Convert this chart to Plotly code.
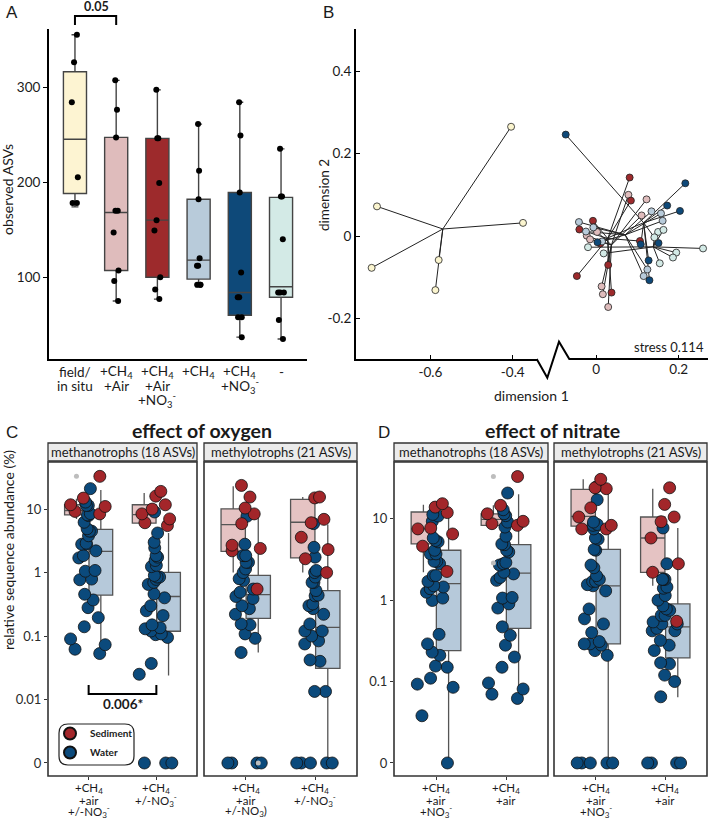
import plotly.graph_objects as go

W, H = 709, 821
FONT = "Lato"
INK = "#1a1a1a"

# ---------------- panel A: observed ASVs per treatment ----------------
a_labels = [["field/", "in situ"],
            ["+CH<sub>4</sub>", "+Air"],
            ["+CH<sub>4</sub>", "+Air", "+NO<sub>3</sub><sup>-</sup>"],
            ["+CH<sub>4</sub>"],
            ["+CH<sub>4</sub>", "+NO<sub>3</sub><sup>-</sup>"],
            ["-"]]
a_field = [355, 326, 284, 205, 178, 178]
a_ch4_air = [307, 276, 247, 170, 170, 147, 107, 96, 75]
a_ch4_air_no3 = [297, 246, 246, 199, 160, 149, 100, 87, 77]
a_ch4 = [261, 212, 182, 120, 112, 112, 92, 92, 92]
a_ch4_no3 = [284, 249, 189, 105, 79, 79, 58, 58, 37]
a_none = [235, 185, 185, 140, 84, 84, 84, 55, 35]
a_low = [174, 75, 77, 90, 37, 35]
a_q1 = [188, 107, 100, 98, 60, 79]
a_med = [245, 168, 160, 118, 84, 90]
a_q3 = [316, 247, 246, 182, 189, 184]
a_up = [355, 307, 297, 261, 284, 235]
a_colors = ["#fdf4d2", "#dfbcbc", "#9d2a2c", "#b8cbda", "#0e4979", "#d3eae6"]

# ---------------- panel B: NMDS ordination ----------------
b_field_d1 = [-0.404, -0.730, -0.375, -0.743, -0.580, -0.588]
b_field_d2 = [0.265, 0.072, 0.032, -0.077, -0.058, -0.131]
b_ch4_air_d1 = [0.078, 0.122, 0.110, -0.023, -0.015, 0.013, 0.016, 0.029, 0.002]
b_ch4_air_d2 = [0.100, 0.089, 0.050, 0.001, -0.008, -0.122, -0.141, -0.172, 0.010]
b_ch4_air_no3_d1 = [0.081, 0.084, -0.008, -0.041, 0.106, 0.029, -0.047, 0.037, 0.010]
b_ch4_air_no3_d2 = [0.142, 0.086, 0.037, 0.016, -0.012, -0.070, -0.097, -0.137, -0.018]
b_ch4_d1 = [-0.042, -0.007, 0.134, 0.157, 0.161, 0.124, 0.115, 0.014, -0.025]
b_ch4_d2 = [0.034, 0.021, 0.060, 0.055, 0.037, -0.081, -0.097, -0.013, 0.011]
b_ch4_no3_d1 = [-0.074, 0.216, 0.172, 0.203, 0.151, 0.127, 0.129, 0.003, 0.108]
b_ch4_no3_d2 = [0.246, 0.128, 0.074, 0.061, -0.017, -0.059, -0.107, -0.015, -0.020]
b_none_d1 = [-0.020, 0.018, 0.150, 0.163, 0.194, 0.186, 0.259, 0.154, 0.141]
b_none_d2 = [-0.027, -0.042, 0.010, 0.015, -0.040, -0.052, -0.030, -0.066, -0.003]

# ---------------- panel C: effect of oxygen (rel. abundance %) ----------------
c_labels_mt = [["+CH<sub>4</sub>", "+air", "+/-NO<sub>3</sub><sup>-</sup>"],
               ["+CH<sub>4</sub>", "+/-NO<sub>3</sub><sup>-</sup>"]]
c_labels_my = [["+CH<sub>4</sub>", "+air", "+/-NO<sub>3</sub>)"],
               ["+CH<sub>4</sub>", "+/-NO<sub>3</sub><sup>-</sup>"]]
c_mt_air_sed = [32.8, 14.9, 11.7, 11.0, 9.2, 8.4]
c_mt_air_wat = [21, 12.9, 11.4, 11.4, 7.9, 8.1, 8.5, 6.2, 4.5, 4.5, 4.9, 3.8, 2.9, 2.8, 2.2, 2.8,
                1.85, 1.7, 1.08, 1.05, 0.79, 0.77, 0.455, 0.37, 0.28, 0.195, 0.14, 0.09, 0.073,
                0.062, 0.053]
c_mt_noair_sed = [19, 16, 11.7, 10, 8.4, 7.0, 6.1, 5.5]
c_mt_noair_wat = [9.0, 4.2, 3.0, 2.45, 1.75, 1.85, 1.55, 1.24, 1.3, 0.9, 0.78, 0.85, 0.85, 0.65,
                  0.7, 0.46, 0.4, 0.3, 0.25, 0.21, 0.15, 0.13, 0.108, 0.105, 0.135, 0.12, 0.095,
                  0.037, 0.025, 0, 0, 0]
c_my_air_sed = [23.6, 15.5, 10.4, 8.4, 5.9, 2.7, 2.4, 2.2, 0.55]
c_my_air_wat = [7.7, 2.8, 1.85, 1.85, 1.85, 1.14, 1.0, 1.45, 1.45, 0.75, 0.8, 0.49, 0.39, 0.55,
                0.42, 0.3, 0.27, 0.22, 0.155, 0.15, 0.108, 0.092, 0.055, 0, 0, 0, 0]
c_my_noair_sed = [15.5, 15, 6.9, 6.1, 3.6, 2.3, 1.65, 1.0]
c_my_noair_wat = [5.9, 2.5, 1.75, 1.08, 0.7, 1.0, 0.85, 0.7, 0.52, 0.44, 0.32, 0.27, 0.43, 0.3,
                  0.22, 0.155, 0.12, 0.1, 0.12, 0.084, 0.075, 0.042, 0.04, 0.0134, 0.0134,
                  0, 0, 0, 0, 0]
# box stats, order: methanotrophs cat0, cat1, methylotrophs cat0, cat1
c_sed_low = [7.0, 5.5, 1.0, 1.0]
c_sed_q1 = [8.1, 6.0, 2.15, 1.7]
c_sed_med = [9.5, 8.2, 5.7, 6.2]
c_sed_q3 = [11.7, 11.7, 10.1, 14.2]
c_sed_up = [14.5, 18, 23, 15.5]
c_wat_low = [0.053, 0.024, 0.055, 0]
c_wat_q1 = [0.44, 0.119, 0.19, 0.031]
c_wat_med = [2.15, 0.42, 0.45, 0.137]
c_wat_q3 = [4.8, 1.01, 0.9, 0.52]
c_wat_up = [20, 4.2, 7.7, 5.7]
c_sed_out = [[33], [], [], []]
c_wat_out = [[], [], [0], []]

# ---------------- panel D: effect of nitrate ----------------
d_labels = [["+CH<sub>4</sub>", "+air", "+NO<sub>3</sub><sup>-</sup>"],
            ["+CH<sub>4</sub>", "+air"]]
d_mt_no3_sed = [15.3, 13.9, 11.9, 7.7, 7.5, 6.5, 4.6, 2.25]
d_mt_no3_wat = [11.3, 10.8, 9.3, 5.8, 5.2, 5.4, 4.1, 3.7, 3.7, 3.0, 3.0, 2.8, 2.0, 2.0, 1.7,
                1.38, 1.45, 1.5, 1.06, 1.25, 0.99, 0.38, 0.29, 0.21, 0.23, 0.155, 0.15, 0.11,
                0.093, 0.085, 0.038, 0]
d_mt_air_sed = [33, 14.6, 11.5, 9.3, 8.3, 8.7]
d_mt_air_wat = [20.7, 12.9, 11.5, 10.9, 9.1, 7.9, 6.1, 4.9, 4.8, 3.9, 4.1, 2.8, 2.9, 2.7, 2.2,
                2.1, 1.9, 1.75, 1.08, 1.06, 0.9, 0.8, 0.47, 0.37, 0.28, 0.2, 0.15, 0.096, 0.081,
                0.07, 0.062]
d_my_no3_sed = [30.5, 23.4, 24, 13.6, 10.5, 8.3, 7.5, 7.5]
d_my_no3_wat = [24.5, 17.1, 9.1, 7.5, 8.3, 8.5, 5.8, 5.6, 4.2, 4.1, 2.7, 2.5, 2.0, 1.8, 1.7, 1.3,
                1.5, 1.7, 1.55, 0.78, 0.59, 0.51, 0.4, 0.29, 0.31, 0.28, 0.29, 0.24, 0.21,
                0, 0, 0, 0, 0]
d_my_air_sed = [24, 15, 10.5, 9.2, 5.8, 2.8, 2.2, 0.55]
d_my_air_wat = [7.7, 2.8, 1.8, 1.8, 1.45, 1.8, 1.4, 1.14, 0.85, 1.0, 0.75, 0.78, 0.65, 0.65,
                0.54, 0.45, 0.42, 0.51, 0.51, 0.42, 0.32, 0.28, 0.24, 0.165, 0.17, 0.12, 0.1,
                0.065, 0, 0, 0, 0]
d_sed_low = [2.2, 7.5, 7.0, 1.5]
d_sed_q1 = [4.9, 8.3, 8.1, 2.2]
d_sed_med = [7.5, 9.8, 10.7, 5.8]
d_sed_q3 = [12.1, 11.5, 23, 10.5]
d_sed_up = [14.9, 14.6, 30.5, 23.4]
d_wat_low = [0, 0.062, 0, 0.064]
d_wat_q1 = [0.24, 0.45, 0.29, 0.195]
d_wat_med = [1.6, 2.15, 1.5, 0.47]
d_wat_q3 = [4.1, 4.8, 4.2, 0.9]
d_wat_up = [11.3, 20, 24.5, 7.7]
d_sed_out = [[], [33, 2.85], [], []]
d_wat_out = [[], [], [], []]

SED, WAT = "#a3262a", "#0b4a7c"
SED_BOX, WAT_BOX = "#e5c3c3", "#b6c9da"


def fx(p):
    return p / W


def fy(p):
    return 1 - p / H


fig = go.Figure()

# ---- A
a_points = [a_field, a_ch4_air, a_ch4_air_no3, a_ch4, a_ch4_no3, a_none]
for i in range(6):
    fig.add_trace(go.Box(x=[i], q1=[a_q1[i]], median=[a_med[i]], q3=[a_q3[i]],
                         lowerfence=[a_low[i]], upperfence=[a_up[i]], width=0.56,
                         fillcolor=a_colors[i], line=dict(color="#444", width=1.4),
                         whiskerwidth=0.3, boxpoints=False, xaxis="x", yaxis="y"))
for i, pts in enumerate(a_points):
    fig.add_trace(go.Box(x=[i] * len(pts), y=pts, boxpoints="all", jitter=0.6, pointpos=0,
                         width=0.3, fillcolor="rgba(0,0,0,0)",
                         line=dict(color="rgba(0,0,0,0)", width=0),
                         marker=dict(color="black", size=6), xaxis="x", yaxis="y"))

# ---- B (spider plot to group centroids)
b_groups = [(b_field_d1, b_field_d2, "#fbf5cf", "x2"),
            (b_ch4_air_d1, b_ch4_air_d2, a_colors[1], "x3"),
            (b_ch4_air_no3_d1, b_ch4_air_no3_d2, a_colors[2], "x3"),
            (b_ch4_d1, b_ch4_d2, a_colors[3], "x3"),
            (b_ch4_no3_d1, b_ch4_no3_d2, a_colors[4], "x3"),
            (b_none_d1, b_none_d2, a_colors[5], "x3")]
for d1, d2, col, xa in b_groups:
    cx, cy = sum(d1) / len(d1), sum(d2) / len(d2)
    lx, ly = [], []
    for x, y in zip(d1, d2):
        lx += [x, cx, None]
        ly += [y, cy, None]
    fig.add_trace(go.Scatter(x=lx, y=ly, mode="lines", line=dict(color="#222", width=1),
                             xaxis=xa, yaxis="y2"))
for d1, d2, col, xa in b_groups:
    fig.add_trace(go.Scatter(x=d1, y=d2, mode="markers", xaxis=xa, yaxis="y2", cliponaxis=False,
                             marker=dict(color=col, size=7, line=dict(color="#222", width=0.8))))

# ---- C and D
BW, DODGE = 0.35, 0.18


def facet(xa, ya, floor, sed_pts, wat_pts, sed_stats, wat_stats, sed_out, wat_out):
    for c in range(2):
        for pos, st, fill, outl in ((c - DODGE, sed_stats, SED_BOX, sed_out),
                                    (c + DODGE, wat_stats, WAT_BOX, wat_out)):
            lo, q1, med, q3, up = [max(s[c], floor) for s in st]
            fig.add_trace(go.Box(x=[pos], q1=[q1], median=[med], q3=[q3], lowerfence=[lo],
                                 upperfence=[up], width=BW, fillcolor=fill,
                                 line=dict(color="#555", width=1.3), whiskerwidth=0,
                                 boxpoints=False, xaxis=xa, yaxis=ya))
            if outl[c]:
                fig.add_trace(go.Scatter(x=[pos] * len(outl[c]),
                                         y=[max(v, floor) for v in outl[c]], mode="markers",
                                         marker=dict(color="#bdbdbd", size=5),
                                         xaxis=xa, yaxis=ya))
        for pts, col in ((wat_pts[c], WAT), (sed_pts[c], SED)):
            fig.add_trace(go.Box(x=[c] * len(pts), y=[max(v, floor) for v in pts],
                                 boxpoints="all", jitter=0.9, pointpos=0, width=0.7,
                                 fillcolor="rgba(0,0,0,0)",
                                 line=dict(color="rgba(0,0,0,0)", width=0),
                                 marker=dict(color=col, size=12,
                                             line=dict(color="#111", width=0.8)),
                                 xaxis=xa, yaxis=ya))


c_sed_stats = [c_sed_low, c_sed_q1, c_sed_med, c_sed_q3, c_sed_up]
c_wat_stats = [c_wat_low, c_wat_q1, c_wat_med, c_wat_q3, c_wat_up]
d_sed_stats = [d_sed_low, d_sed_q1, d_sed_med, d_sed_q3, d_sed_up]
d_wat_stats = [d_wat_low, d_wat_q1, d_wat_med, d_wat_q3, d_wat_up]


def sl(stats, k):
    return [s[k:k + 2] for s in stats]


facet("x4", "y3", 0.001, [c_mt_air_sed, c_mt_noair_sed], [c_mt_air_wat, c_mt_noair_wat],
      sl(c_sed_stats, 0), sl(c_wat_stats, 0), c_sed_out[0:2], c_wat_out[0:2])
facet("x5", "y3", 0.001, [c_my_air_sed, c_my_noair_sed], [c_my_air_wat, c_my_noair_wat],
      sl(c_sed_stats, 2), sl(c_wat_stats, 2), c_sed_out[2:4], c_wat_out[2:4])
facet("x6", "y4", 0.01, [d_mt_no3_sed, d_mt_air_sed], [d_mt_no3_wat, d_mt_air_wat],
      sl(d_sed_stats, 0), sl(d_wat_stats, 0), d_sed_out[0:2], d_wat_out[0:2])
facet("x7", "y4", 0.01, [d_my_no3_sed, d_my_air_sed], [d_my_no3_wat, d_my_air_wat],
      sl(d_sed_stats, 2), sl(d_wat_stats, 2), d_sed_out[2:4], d_wat_out[2:4])

# legend keys
for name, col in (("Sediment", SED), ("Water", WAT)):
    fig.add_trace(go.Scatter(x=[None], y=[None], mode="markers", name="<b>%s</b>" % name,
                             showlegend=True, xaxis="x4", yaxis="y3",
                             marker=dict(color=col, size=13, line=dict(color="#111", width=1))))

for tr in fig.data:
    if tr.showlegend is None:
        tr.showlegend = False
    tr.hoverinfo = "skip"

# ---- axes
tick_font = dict(family=FONT, size=13.5, color=INK)
small_font = dict(family=FONT, size=13, color="#2b2b2b")
base = dict(showgrid=False, zeroline=False, automargin=False)
black_line = dict(showline=True, linecolor="black", linewidth=2)

layout_axes = dict(
    xaxis=dict(domain=[fx(49), fx(307)], range=[-0.63, 5.63], anchor="y", tickvals=list(range(6)),
               showticklabels=False, ticks="", **base, **black_line),
    yaxis=dict(domain=[fy(359), fy(29)], range=[14, 361], anchor="x", tickvals=[100, 200, 300],
               ticks="outside", ticklen=4, tickcolor="black", tickfont=tick_font,
               **base, **black_line),
    xaxis2=dict(domain=[fx(356), fx(537)], range=[-0.781, -0.341], anchor="y2",
                tickvals=[-0.6, -0.4], ticktext=["-0.6", "-0.4"], ticks="inside", ticklen=4,
                tickcolor="black", tickfont=tick_font, **base, **black_line),
    xaxis3=dict(domain=[fx(556), fx(708)], range=[-0.0976, 0.271], anchor="y2",
                tickvals=[0, 0.2], ticktext=["0", "0.2"], ticks="inside", ticklen=4,
                tickcolor="black", tickfont=tick_font, showline=False, **base),
    yaxis2=dict(domain=[fy(359), fy(29)], range=[-0.298, 0.502], anchor="x2",
                tickvals=[-0.2, 0, 0.2, 0.4], ticktext=["-0.2", "0", "0.2", "0.4"],
                ticks="inside", ticklen=4, tickcolor="black", tickfont=tick_font,
                **base, **black_line),
)
facet_x = dict(range=[-0.6, 1.6], tickvals=[0, 1], ticks="outside", ticklen=3,
               tickcolor="#333", showticklabels=False, showline=False, **base)
for name, dom, anchor in (("xaxis4", (48, 197), "y3"), ("xaxis5", (204, 357), "y3"),
                          ("xaxis6", (394, 548), "y4"), ("xaxis7", (554, 707), "y4")):
    layout_axes[name] = dict(domain=[fx(dom[0]), fx(dom[1])], anchor=anchor, **facet_x)
log_ticks = dict(type="log", ticks="outside", ticklen=3, tickcolor="#333", tickfont=small_font,
                 showline=False, **base)
layout_axes["yaxis3"] = dict(domain=[fy(776), fy(462)], range=[-3.205, 1.742], anchor="x4",
                             tickvals=[0.001, 0.01, 0.1, 1, 10],
                             ticktext=["0", "0.01", "0.1", "1", "10"], **log_ticks)
layout_axes["yaxis4"] = dict(domain=[fy(776), fy(462)], range=[-2.16, 1.697], anchor="x6",
                             tickvals=[0.01, 0.1, 1, 10], ticktext=["0", "0.1", "1", "10"],
                             **log_ticks)

# ---- shapes
shapes = []
for xa, ya in (("x4", "y3"), ("x5", "y3"), ("x6", "y4"), ("x7", "y4")):
    shapes.append(dict(type="rect", xref=xa + " domain", yref=ya + " domain", x0=0, x1=1,
                       y0=0, y1=1, line=dict(color="#333", width=1.6), layer="above"))
    shapes.append(dict(type="rect", xref=xa + " domain", yref="paper", x0=0, x1=1,
                       y0=fy(461), y1=fy(443), fillcolor="#ebebeb",
                       line=dict(color="#333", width=1.3)))
# broken x axis of B: right segment line and zigzag
zz = [(536.7, 359), (547.3, 377.7), (559, 341.7), (569.3, 359), (708, 359)]
shapes.append(dict(type="path", xref="paper", yref="paper",
                   path="M " + " L ".join("%.5f,%.5f" % (fx(a), fy(b)) for a, b in zz),
                   line=dict(color="black", width=2)))
# significance brackets
shapes.append(dict(type="path", xref="x", yref="paper",
                   path="M 0,%.5f L 0,%.5f L 1,%.5f L 1,%.5f" % (fy(25), fy(16), fy(16), fy(25)),
                   line=dict(color="black", width=2)))
shapes.append(dict(type="path", xref="x4", yref="paper",
                   path="M 0,%.5f L 0,%.5f L 1,%.5f L 1,%.5f" % (fy(685), fy(694), fy(694), fy(685)),
                   line=dict(color="black", width=2)))
# rounded legend frame
x0, x1, y0, y1, r = 59, 134, 724, 765, 9
pts = [(x0 + r, y0), (x1 - r, y0), (x1, y0), (x1, y0 + r), (x1, y1 - r), (x1, y1),
       (x1 - r, y1), (x0 + r, y1), (x0, y1), (x0, y1 - r), (x0, y0 + r), (x0, y0), (x0 + r, y0)]
p = ["%.5f,%.5f" % (fx(a), fy(b)) for a, b in pts]
legend_path = ("M %s L %s Q %s %s L %s Q %s %s L %s Q %s %s L %s Q %s %s Z"
               % (p[0], p[1], p[2], p[3], p[4], p[5], p[6], p[7], p[8], p[9], p[10], p[11], p[12]))
shapes.append(dict(type="path", xref="paper", yref="paper", path=legend_path,
                   line=dict(color="#222", width=1.2)))


def note(text, x, y, size=14, angle=0, xanchor="center", family=FONT, color=INK):
    return dict(text=text, x=fx(x), y=fy(y), xref="paper", yref="paper", showarrow=False,
                font=dict(family=family, size=size, color=color), textangle=angle,
                xanchor=xanchor, yanchor="middle")


annotations = [
    note("A", 12, 13, size=17, family="Liberation Sans"),
    note("B", 328, 13, size=17, family="Liberation Sans"),
    note("C", 12, 432, size=17, family="Liberation Sans"),
    note("D", 384, 432, size=17, family="Liberation Sans"),
    note("<b>0.05</b>", 96, 7, size=12.5),
    note("observed ASVs", 8, 190, angle=-90),
    note("dimension 2", 324, 195, size=13.5, angle=-90),
    note("dimension 1", 531, 395),
    note("stress 0.114", 706, 347, size=13, xanchor="right"),
    note("<b>effect of oxygen</b>", 202, 431, size=19.5),
    note("<b>effect of nitrate</b>", 552, 431, size=19.5),
    note("relative sequence abundance (%)", 8, 550, angle=-90),
    note("<b>0.006*</b>", 123, 704, size=13.5),
]
for xa, txt in (("x4", "methanotrophs (18 ASVs)"), ("x5", "methylotrophs (21 ASVs)"),
                ("x6", "methanotrophs (18 ASVs)"), ("x7", "methylotrophs (21 ASVs)")):
    annotations.append(dict(text=txt, x=0.5, y=fy(452), xref=xa + " domain", yref="paper",
                            showarrow=False, font=dict(family=FONT, size=13, color=INK),
                            xanchor="center", yanchor="middle"))


# multi-line category labels, one annotation per line
def cat_labels(xa, labels, ys, size):
    for i, lines in enumerate(labels):
        for line, y in zip(lines, ys):
            annotations.append(dict(text=line, x=i, y=fy(y), xref=xa, yref="paper",
                                    showarrow=False, xanchor="center", yanchor="middle",
                                    font=dict(family=FONT, size=size, color=INK)))


cat_labels("x", a_labels, [372, 386, 400], 13.5)
for xa, labs in (("x4", c_labels_mt), ("x5", c_labels_my), ("x6", d_labels), ("x7", d_labels)):
    cat_labels(xa, labs, [788.5, 800.5, 811.5], 11.5)

fig.update_layout(
    width=W, height=H, margin=dict(l=0, r=0, t=0, b=0, pad=0, autoexpand=False),
    plot_bgcolor="white", paper_bgcolor="white",
    boxmode="overlay", hovermode=False,
    font=dict(family=FONT, color=INK),
    shapes=shapes, annotations=annotations,
    legend=dict(x=fx(50), y=fy(719), xanchor="left", yanchor="top", bgcolor="rgba(0,0,0,0)",
                font=dict(family=FONT, size=10, color=INK), tracegroupgap=0,
                itemsizing="constant", itemwidth=30),
    **layout_axes,
)

# the page body has a default 8px margin; remove it so the figure fills the window
fig.write_html("out.html", config={"displayModeBar": False},
               post_script="document.body.style.margin='0';")
